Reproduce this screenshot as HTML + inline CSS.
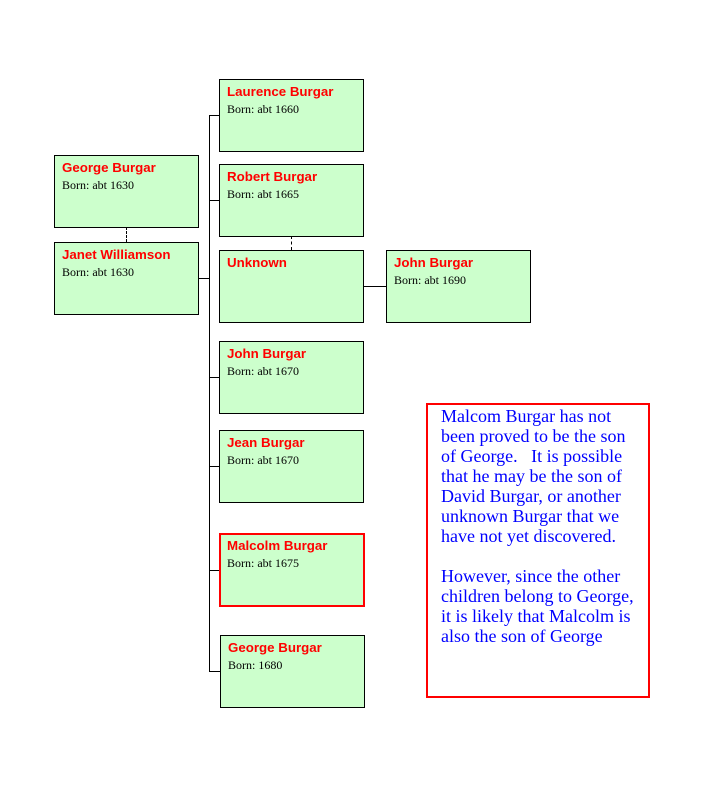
<!DOCTYPE html>
<html><head><style>
body{margin:0;width:720px;height:792px;background:#fff;position:relative;overflow:hidden}
.b{position:absolute;background:#ccffcc;border:1px solid #000;box-sizing:border-box;width:145px;height:73px}
.r{border:2px solid #f00}
.n{position:absolute;left:7px;top:4px;font:bold 13.3px "Liberation Sans",sans-serif;color:#f00;white-space:nowrap}
.d{position:absolute;left:7px;top:22px;font:12px "Liberation Serif",serif;color:#000;white-space:nowrap}
.r .n{left:6px;top:3px}.r .d{left:6px;top:21px}
.h{position:absolute;height:1px;background:#000}
.v{position:absolute;width:1px;background:#000}
.dv{position:absolute;width:0;border-left:1px dashed #000}
.note{position:absolute;left:426px;top:403px;width:224px;height:295px;border:2px solid #f00;box-sizing:border-box;font:18px/20px "Liberation Serif",serif;color:#00f;padding:1px 0 0 13px;white-space:pre}
</style></head><body>
<div class="b" style="left:54px;top:155px"><div class="n">George Burgar</div><div class="d">Born: abt 1630</div></div>
<div class="b" style="left:54px;top:242px"><div class="n">Janet Williamson</div><div class="d">Born: abt 1630</div></div>
<div class="dv" style="left:126px;top:227px;height:15px"></div>
<div class="h" style="left:198px;top:278px;width:11px"></div>
<div class="v" style="left:209px;top:115px;height:557px"></div>
<div class="h" style="left:209px;top:115px;width:10px"></div>
<div class="h" style="left:209px;top:200px;width:10px"></div>
<div class="h" style="left:209px;top:377px;width:10px"></div>
<div class="h" style="left:209px;top:466px;width:10px"></div>
<div class="h" style="left:209px;top:570px;width:11px"></div>
<div class="h" style="left:209px;top:671px;width:11px"></div>
<div class="b" style="left:219px;top:79px"><div class="n">Laurence Burgar</div><div class="d">Born: abt 1660</div></div>
<div class="b" style="left:219px;top:164px"><div class="n">Robert Burgar</div><div class="d">Born: abt 1665</div></div>
<div class="dv" style="left:291px;top:236px;height:14px"></div>
<div class="b" style="left:219px;top:250px"><div class="n">Unknown</div></div>
<div class="h" style="left:363px;top:286px;width:23px"></div>
<div class="b" style="left:386px;top:250px"><div class="n">John Burgar</div><div class="d">Born: abt 1690</div></div>
<div class="b" style="left:219px;top:341px"><div class="n">John Burgar</div><div class="d">Born: abt 1670</div></div>
<div class="b" style="left:219px;top:430px"><div class="n">Jean Burgar</div><div class="d">Born: abt 1670</div></div>
<div class="b r" style="left:219px;top:533px;height:74px;width:146px"><div class="n">Malcolm Burgar</div><div class="d">Born: abt 1675</div></div>
<div class="b" style="left:220px;top:635px"><div class="n">George Burgar</div><div class="d">Born: 1680</div></div>
<div class="note">Malcom Burgar has not
been proved to be the son
of George.   It is possible
that he may be the son of
David Burgar, or another
unknown Burgar that we
have not yet discovered.

However, since the other
children belong to George,
it is likely that Malcolm is
also the son of George</div>
</body></html>
